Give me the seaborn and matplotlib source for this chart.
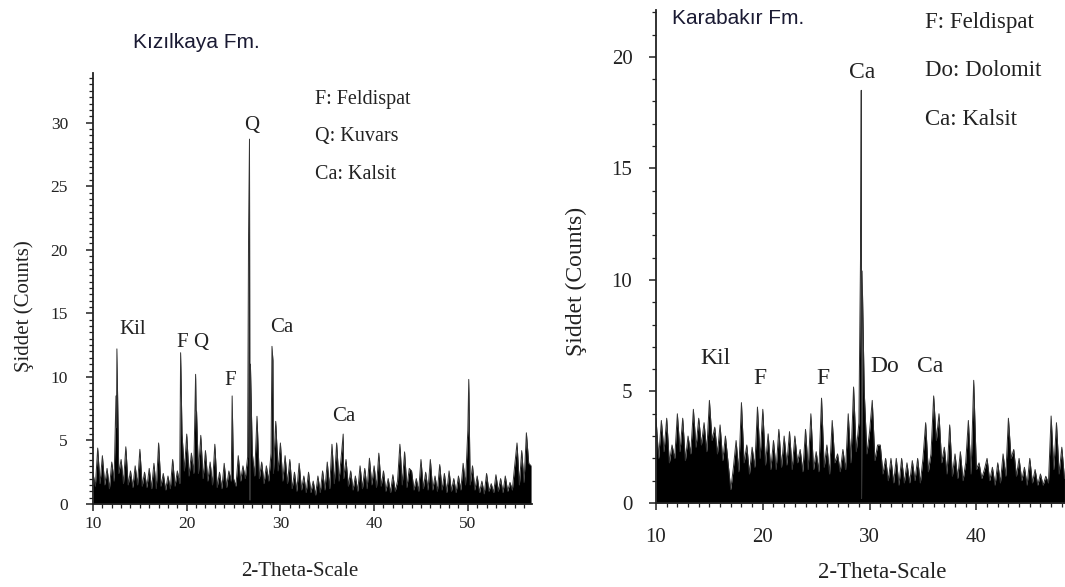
import numpy as np
import pandas as pd
import matplotlib
matplotlib.use("Agg")
import matplotlib.pyplot as plt
import seaborn as sns
from matplotlib.ticker import MultipleLocator

# ---------------- data ----------------
STEP = 0.25
# Kizilkaya Fm. background pattern, 10.00 .. 56.75 deg, 0.25 deg steps
kiz_counts = [
    2.4, 1.4, 4.4, 1.6,   3.8, 1.5, 2.8, 1.2,   3.3, 1.8, 6.0, 2.4,   3.5, 1.6, 4.5, 1.5,
    2.6, 1.3, 3.0, 1.5,   4.3, 1.4, 2.5, 1.3,   2.8, 1.2, 3.2, 1.2,   4.8, 1.4, 2.4, 1.1,
    2.2, 1.2, 3.5, 1.4,   2.6, 1.6, 5.5, 2.6,   5.5, 2.2, 4.0, 2.4,   7.3, 2.4, 5.4, 2.0,
    4.2, 1.8, 3.3, 1.5,   4.7, 1.3, 2.5, 1.2,   3.2, 1.3, 2.6, 1.8,   2.0, 1.4, 3.8, 1.8,
    3.0, 2.0, 3.7, 0.3,   4.0, 2.2, 6.9, 2.0,   3.3, 1.6, 3.0, 1.8,   4.0, 2.4, 6.5, 2.6,
    4.8, 1.8, 3.8, 1.6,   3.5, 1.2, 2.5, 1.0,   3.2, 1.1, 2.2, 0.9,   2.5, 0.9, 1.8, 0.7,
    2.2, 0.9, 2.6, 1.1,   3.3, 1.2, 4.7, 1.6,   4.8, 1.8, 3.8, 2.0,   3.5, 1.4, 2.6, 1.1,
    2.2, 1.0, 3.0, 1.2,   2.8, 1.2, 3.6, 1.5,   3.0, 1.3, 4.0, 1.4,   2.6, 1.0, 2.0, 0.9,
    2.3, 1.0, 1.8, 4.7,   1.5, 4.1, 1.3, 2.8,   2.6, 1.1, 2.0, 1.0,   3.5, 1.2, 2.5, 1.1,
    3.5, 1.1, 2.2, 1.0,   3.1, 1.1, 2.4, 0.9,   2.6, 1.0, 2.0, 0.9,   2.2, 1.1, 3.2, 1.5,
    5.8, 1.5, 3.0, 1.1,   2.2, 0.9, 1.8, 0.8,   2.4, 1.0, 1.6, 0.9,   2.3, 1.0, 2.0, 0.9,
    2.2, 1.0, 1.7, 1.1,   3.0, 4.8, 1.5, 4.2,   1.7, 5.6, 3.2, 3.0,
]
# Kizilkaya Fm. reflections
kiz_peak_theta = [12.45, 12.55, 19.35, 20.95, 21.05, 24.85, 26.6, 26.7, 26.8, 29.1, 29.2, 36.7, 50.1]
kiz_peak_counts = [8.5, 12.2, 11.9, 10.2, 7.3, 8.5, 21.2, 28.7, 11.0, 12.4, 11.3, 5.5, 9.8]

# Karabakir Fm. background pattern, 10.00 .. 48.25 deg, 0.25 deg steps
kar_counts = [
    3.8, 2.0, 3.7, 2.3,   3.8, 1.8, 2.6, 2.0,   4.0, 2.3, 3.8, 1.9,   3.0, 2.2, 4.2, 2.5,
    3.8, 2.6, 3.6, 2.3,   4.6, 2.8, 3.4, 2.2,   3.5, 1.9, 3.0, 1.8,   0.6, 1.6, 2.8, 1.4,
    4.5, 1.8, 2.6, 1.3,   2.5, 1.6, 4.3, 2.0,   4.2, 1.7, 3.1, 1.5,   2.8, 1.5, 3.3, 1.6,
    3.0, 1.7, 3.2, 1.5,   3.0, 1.8, 2.4, 1.4,   3.3, 1.5, 4.0, 1.5,   2.3, 1.4, 4.7, 1.6,
    2.6, 1.3, 3.7, 1.8,   2.2, 1.4, 2.4, 1.5,   4.0, 1.8, 5.2, 2.3,   3.6, 0.2, 5.0, 2.2,
    3.2, 4.6, 1.9, 2.6,   2.6, 1.3, 2.0, 1.0,   2.0, 0.9, 2.0, 0.8,   2.0, 0.9, 1.8, 0.9,
    1.9, 1.0, 2.0, 0.9,   2.0, 3.6, 1.4, 2.2,   4.8, 2.8, 4.0, 1.8,   2.5, 1.3, 3.5, 1.2,
    2.2, 1.1, 2.3, 1.0,   1.8, 3.7, 1.3, 5.5,   1.5, 1.8, 1.1, 1.5,   2.0, 1.0, 1.6, 0.8,
    1.8, 0.9, 2.2, 1.2,   3.8, 2.0, 2.4, 1.2,   2.0, 1.0, 1.6, 0.8,   2.0, 0.9, 1.5, 0.8,
    1.3, 0.8, 1.2, 0.9,   3.9, 1.5, 3.6, 1.3,   2.5, 1.1,
]
# Karabakir Fm. reflections
kar_peak_theta = [29.15, 29.22, 29.3]
kar_peak_counts = [11.0, 18.5, 10.4]

kiz_labels = ["Kil", "F", "Q", "F", "Q", "Ca", "Ca"]
kiz_label_x = [14.2, 19.5, 21.5, 24.6, 26.9, 30.1, 36.8]
kiz_label_y = [13.7, 12.7, 12.7, 9.7, 29.8, 13.9, 6.9]
kiz_legend = ["F: Feldispat", "Q: Kuvars", "Ca: Kalsit"]

kar_labels = ["Kil", "F", "F", "Ca", "Do", "Ca"]
kar_label_x = [15.6, 19.7, 25.6, 29.3, 31.4, 35.7]
kar_label_y = [6.5, 5.6, 5.6, 19.3, 6.1, 6.1]
kar_legend = ["F: Feldispat", "Do: Dolomit", "Ca: Kalsit"]


def pattern(counts, peak_theta, peak_counts):
    theta = 10.0 + STEP * np.arange(len(counts))
    df = pd.concat([
        pd.DataFrame({"theta": theta, "counts": counts}),
        pd.DataFrame({"theta": peak_theta, "counts": peak_counts}),
    ]).sort_values("theta", kind="stable").reset_index(drop=True)
    return df


# ---------------- figure ----------------
sns.set_style("ticks")
plt.rcParams["font.family"] = ["Liberation Serif", "DejaVu Serif"]

W, H = 1065, 587
fig = plt.figure(figsize=(W / 100, H / 100), dpi=100)

def px_axes(x0, x1, ytop, ybot):
    return fig.add_axes([x0 / W, 1 - ybot / H, (x1 - x0) / W, (ybot - ytop) / H])

axL = px_axes(93, 532, 73, 504)
axR = px_axes(656, 1065, 10, 503)

sans = ["Liberation Sans", "DejaVu Sans"]
INK = "#222222"

for ax, counts, pt, pc, xlim, ylim, ymin, tsize, xpad, ypad in [
    (axL, kiz_counts, kiz_peak_theta, kiz_peak_counts, (10, 56.85), (0, 33.9), 0.5, 12.5, 4, 13),
    (axR, kar_counts, kar_peak_theta, kar_peak_counts, (10, 48.3), (0, 22.1), 1.0, 15, 13, 12),
]:
    df = pattern(counts, pt, pc)
    # filled diffraction trace
    ax.fill_between(df["theta"], 0, df["counts"], color="black", linewidth=0)
    sns.lineplot(data=df, x="theta", y="counts", ax=ax, color="#333333",
                 linewidth=0.7, estimator=None, sort=False)
    ax.set_xlim(*xlim)
    ax.set_ylim(*ylim)
    for s in ["top", "right"]:
        ax.spines[s].set_visible(False)
    for s in ["left", "bottom"]:
        ax.spines[s].set_color(INK)
        ax.spines[s].set_linewidth(1.3)
    ax.xaxis.set_major_locator(MultipleLocator(10))
    ax.xaxis.set_minor_locator(MultipleLocator(1))
    ax.yaxis.set_major_locator(MultipleLocator(5))
    ax.yaxis.set_minor_locator(MultipleLocator(ymin))
    ax.tick_params(which="major", direction="out", length=5, width=1.1,
                   labelsize=tsize, colors=INK)
    ax.tick_params(which="minor", direction="out", length=3, width=0.9, colors=INK)
    ax.tick_params(axis="x", which="major", pad=xpad)
    ax.tick_params(axis="y", which="major", pad=ypad)
    ax.set_xlabel("")
    ax.set_ylabel("")

# Left panel texts
axL.set_xlabel("2-Theta-Scale", fontsize=15, color=INK)
axL.xaxis.set_label_coords(0.47, -0.135)
axL.set_ylabel("Şiddet (Counts)", fontsize=15, color=INK)
axL.yaxis.set_label_coords(-0.134, 0.46)
for t, x, y in zip(kiz_labels, kiz_label_x, kiz_label_y):
    axL.text(x, y, t, fontsize=15, ha="center", va="center", color=INK)
for i, t in enumerate(kiz_legend):
    axL.text(33.7, 31.85 - 2.95 * i, t, fontsize=14.5, ha="left", va="center", color=INK)
fig.text(196 / W, 1 - 42 / H, "Kızılkaya Fm.", family=sans, fontsize=15,
         ha="center", va="center", color="#1a1a33")

# Right panel texts
axR.set_xlabel("2-Theta-Scale", fontsize=16.5, color=INK)
axR.xaxis.set_label_coords(0.553, -0.12)
axR.set_ylabel("Şiddet (Counts)", fontsize=17, color=INK)
axR.yaxis.set_label_coords(-0.169, 0.45)
for t, x, y in zip(kar_labels, kar_label_x, kar_label_y):
    axR.text(x, y, t, fontsize=17, ha="center", va="center", color=INK)
for i, t in enumerate(kar_legend):
    axR.text(35.2, 21.55 - 2.18 * i, t, fontsize=16.5, ha="left", va="center", color=INK)
fig.text(672 / W, 1 - 18 / H, "Karabakır Fm.", family=sans, fontsize=15,
         ha="left", va="center", color="#1a1a33")

fig.savefig("out.png", dpi=100, facecolor="white")
